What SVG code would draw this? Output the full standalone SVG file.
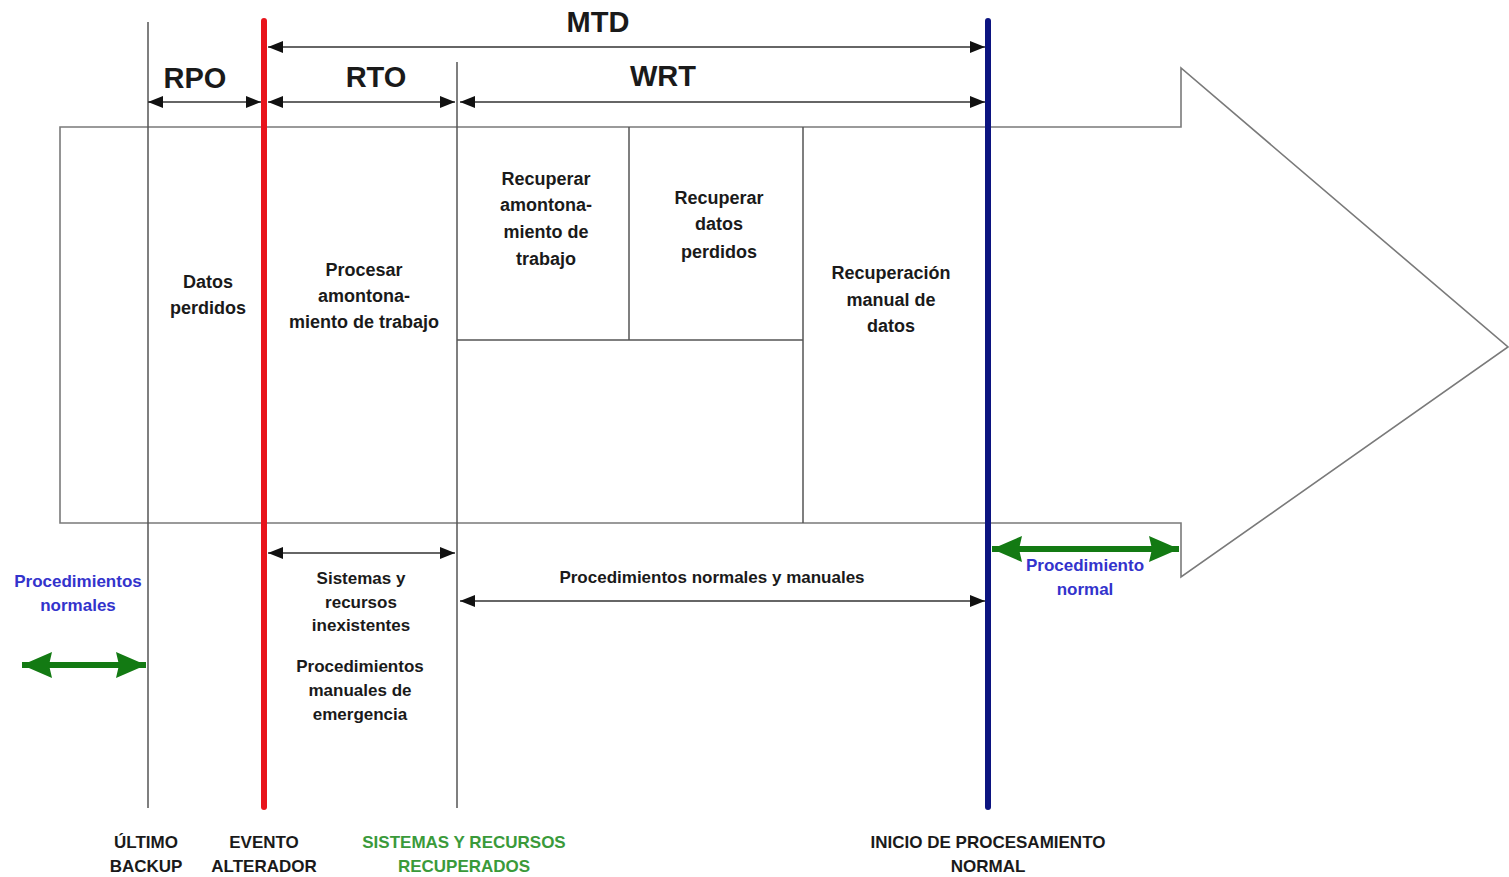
<svg xmlns="http://www.w3.org/2000/svg" width="1509" height="877" viewBox="0 0 1509 877">
<style>
  .t{font-family:"Liberation Sans",Arial,sans-serif;font-weight:bold;text-anchor:middle;fill:#1a1a1a}
  .big{font-size:29px}
  .mid{font-size:18px}
  .sm{font-size:17px}
  .blue{fill:#3333cc}
  .grn{fill:#3a9a3a}
  .thin{stroke:#555;stroke-width:1.5;fill:none}
  .outline{stroke:#7a7a7a;stroke-width:1.6;fill:none}
  .dim{stroke:#333;stroke-width:1.5;fill:none;marker-start:url(#ah);marker-end:url(#ah)}
  .garrow{stroke:#137a13;stroke-width:6;fill:none;marker-start:url(#gh);marker-end:url(#gh)}
</style>
<defs>
  <marker id="ah" markerUnits="userSpaceOnUse" markerWidth="16" markerHeight="12" refX="15" refY="6" orient="auto-start-reverse">
    <path d="M0,0 L15,6 L0,12 z" fill="#111"/>
  </marker>
  <marker id="gh" markerUnits="userSpaceOnUse" markerWidth="32" markerHeight="28" refX="30" refY="14" orient="auto-start-reverse">
    <path d="M0,1 L30,14 L0,27 L3,14 z" fill="#137a13"/>
  </marker>
</defs>
<rect width="1509" height="877" fill="#fff"/>

<g id="big-arrow">
  <path class="outline" d="M60,127 L1181,127 L1181,68 L1508,347 L1181,577 L1181,523 L60,523 Z"/>
</g>

<g id="cells">
  <line class="thin" x1="629" y1="127" x2="629" y2="340"/>
  <line class="thin" x1="457" y1="340" x2="803" y2="340"/>
  <line class="thin" x1="803" y1="127" x2="803" y2="523"/>
</g>

<g id="milestones">
  <line class="thin" x1="148" y1="22" x2="148" y2="808"/>
  <line class="thin" x1="457" y1="62" x2="457" y2="808"/>
  <line x1="264" y1="21" x2="264" y2="807" stroke="#e8141b" stroke-width="6" stroke-linecap="round"/>
  <line x1="988" y1="21" x2="988" y2="807" stroke="#0c1480" stroke-width="6" stroke-linecap="round"/>
</g>

<g id="connectors">
  <line class="dim" x1="268" y1="47" x2="985" y2="47"/>
  <line class="dim" x1="148" y1="102" x2="261" y2="102"/>
  <line class="dim" x1="268" y1="102" x2="455" y2="102"/>
  <line class="dim" x1="460" y1="102" x2="985" y2="102"/>
  <line class="dim" x1="268" y1="553" x2="455" y2="553"/>
  <line class="dim" x1="460" y1="601" x2="985" y2="601"/>
  <line class="garrow" x1="22" y1="665" x2="146" y2="665"/>
  <line class="garrow" x1="992" y1="549" x2="1179" y2="549"/>
</g>

<g id="labels-top">
  <text class="t big" x="598" y="32">MTD</text>
  <text class="t big" x="195" y="88">RPO</text>
  <text class="t big" x="376" y="87">RTO</text>
  <text class="t big" x="663" y="86">WRT</text>
</g>

<g id="node-datos-perdidos">
  <text class="t mid" x="208" y="288">Datos</text>
  <text class="t mid" x="208" y="314">perdidos</text>
</g>
<g id="node-procesar">
  <text class="t mid" x="364" y="276">Procesar</text>
  <text class="t mid" x="364" y="302">amontona-</text>
  <text class="t mid" x="364" y="328">miento de trabajo</text>
</g>
<g id="node-recuperar-amontonamiento">
  <text class="t mid" x="546" y="185">Recuperar</text>
  <text class="t mid" x="546" y="211">amontona-</text>
  <text class="t mid" x="546" y="238">miento de</text>
  <text class="t mid" x="546" y="265">trabajo</text>
</g>
<g id="node-recuperar-datos">
  <text class="t mid" x="719" y="204">Recuperar</text>
  <text class="t mid" x="719" y="230">datos</text>
  <text class="t mid" x="719" y="258">perdidos</text>
</g>
<g id="node-recuperacion-manual">
  <text class="t mid" x="891" y="279">Recuperación</text>
  <text class="t mid" x="891" y="306">manual de</text>
  <text class="t mid" x="891" y="332">datos</text>
</g>

<g id="node-sistemas-inexistentes">
  <text class="t sm" x="361" y="584">Sistemas y</text>
  <text class="t sm" x="361" y="608">recursos</text>
  <text class="t sm" x="361" y="631">inexistentes</text>
  <text class="t sm" x="360" y="672">Procedimientos</text>
  <text class="t sm" x="360" y="696">manuales de</text>
  <text class="t sm" x="360" y="720">emergencia</text>
</g>
<g id="node-proc-normales-manuales">
  <text class="t sm" x="712" y="583">Procedimientos normales y manuales</text>
</g>
<g id="node-proc-normales-left">
  <text class="t sm blue" x="78" y="587">Procedimientos</text>
  <text class="t sm blue" x="78" y="611">normales</text>
</g>
<g id="node-proc-normal-right">
  <text class="t sm blue" x="1085" y="571">Procedimiento</text>
  <text class="t sm blue" x="1085" y="595">normal</text>
</g>

<g id="node-ultimo-backup">
  <text class="t sm" x="146" y="848">ÚLTIMO</text>
  <text class="t sm" x="146" y="872">BACKUP</text>
</g>
<g id="node-evento-alterador">
  <text class="t sm" x="264" y="848">EVENTO</text>
  <text class="t sm" x="264" y="872">ALTERADOR</text>
</g>
<g id="node-sistemas-recuperados">
  <text class="t sm grn" x="464" y="848">SISTEMAS Y RECURSOS</text>
  <text class="t sm grn" x="464" y="872">RECUPERADOS</text>
</g>
<g id="node-inicio-procesamiento">
  <text class="t sm" x="988" y="848">INICIO DE PROCESAMIENTO</text>
  <text class="t sm" x="988" y="872">NORMAL</text>
</g>
</svg>
